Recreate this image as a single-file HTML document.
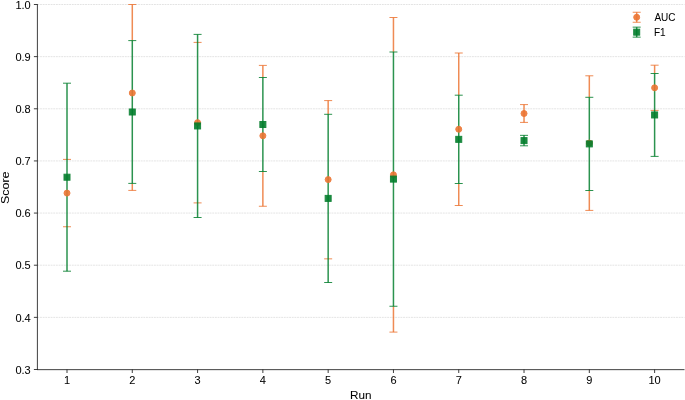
<!DOCTYPE html>
<html><head><meta charset="utf-8"><title>Score by Run</title><style>
html,body{margin:0;padding:0;background:#fff;width:685px;height:400px;overflow:hidden}
svg{display:block;will-change:transform}
text{font-family:"Liberation Sans",sans-serif;fill:#000;stroke:#000;stroke-width:0.05px}
.t{font-size:10.1px}.l{font-size:10.2px}.a{font-size:11.5px}
</style></head><body>
<svg width="685" height="400" viewBox="0 0 685 400">
<g stroke="#b0b0b0" stroke-width="0.5" stroke-dasharray="1.85 0.8" opacity="0.7">
<line x1="37.4" y1="4.50" x2="684.5" y2="4.50"/>
<line x1="37.4" y1="56.64" x2="684.5" y2="56.64"/>
<line x1="37.4" y1="108.79" x2="684.5" y2="108.79"/>
<line x1="37.4" y1="160.93" x2="684.5" y2="160.93"/>
<line x1="37.4" y1="213.07" x2="684.5" y2="213.07"/>
<line x1="37.4" y1="265.21" x2="684.5" y2="265.21"/>
<line x1="37.4" y1="317.36" x2="684.5" y2="317.36"/>
</g>
<g stroke="#EC7431" stroke-opacity="0.83" fill="none">
<path stroke-width="1.0" d="M63.00 159.40H71.00"/>
<path stroke-width="1.0" d="M63.00 226.75H71.00"/>
<path stroke-width="1.5" d="M132.29 4.50V40.60"/>
<path stroke-width="1.5" d="M132.29 183.40V190.40"/>
<path stroke-width="1.0" d="M128.29 4.50H136.29"/>
<path stroke-width="1.0" d="M128.29 190.40H136.29"/>
<path stroke-width="1.0" d="M193.58 42.40H201.58"/>
<path stroke-width="1.0" d="M193.58 202.90H201.58"/>
<path stroke-width="1.5" d="M262.87 65.40V77.50"/>
<path stroke-width="1.5" d="M262.87 171.50V206.25"/>
<path stroke-width="1.0" d="M258.87 65.40H266.87"/>
<path stroke-width="1.0" d="M258.87 206.25H266.87"/>
<path stroke-width="1.5" d="M328.16 100.60V114.30"/>
<path stroke-width="1.0" d="M324.16 100.60H332.16"/>
<path stroke-width="1.0" d="M324.16 258.85H332.16"/>
<path stroke-width="1.5" d="M393.45 17.50V52.00"/>
<path stroke-width="1.5" d="M393.45 306.25V332.10"/>
<path stroke-width="1.0" d="M389.45 17.50H397.45"/>
<path stroke-width="1.0" d="M389.45 332.10H397.45"/>
<path stroke-width="1.5" d="M458.74 53.00V95.20"/>
<path stroke-width="1.5" d="M458.74 183.50V205.50"/>
<path stroke-width="1.0" d="M454.74 53.00H462.74"/>
<path stroke-width="1.0" d="M454.74 205.50H462.74"/>
<path stroke-width="1.5" d="M524.03 104.60V122.40"/>
<path stroke-width="1.0" d="M520.03 104.60H528.03"/>
<path stroke-width="1.0" d="M520.03 122.40H528.03"/>
<path stroke-width="1.5" d="M589.32 75.80V97.30"/>
<path stroke-width="1.5" d="M589.32 190.50V210.40"/>
<path stroke-width="1.0" d="M585.32 75.80H593.32"/>
<path stroke-width="1.0" d="M585.32 210.40H593.32"/>
<path stroke-width="1.5" d="M654.61 65.20V73.50"/>
<path stroke-width="1.0" d="M650.61 65.20H658.61"/>
<path stroke-width="1.0" d="M650.61 110.40H658.61"/>
</g>
<g stroke="#007D2B" stroke-opacity="0.83" fill="none">
<path stroke-width="1.5" d="M67.00 83.20V271.20"/>
<path stroke-width="1.0" d="M63.00 83.20H71.00"/>
<path stroke-width="1.0" d="M63.00 271.20H71.00"/>
<path stroke-width="1.5" d="M132.29 40.60V183.40"/>
<path stroke-width="1.0" d="M128.29 40.60H136.29"/>
<path stroke-width="1.0" d="M128.29 183.40H136.29"/>
<path stroke-width="1.5" d="M197.58 34.40V217.50"/>
<path stroke-width="1.0" d="M193.58 34.40H201.58"/>
<path stroke-width="1.0" d="M193.58 217.50H201.58"/>
<path stroke-width="1.5" d="M262.87 77.50V171.50"/>
<path stroke-width="1.0" d="M258.87 77.50H266.87"/>
<path stroke-width="1.0" d="M258.87 171.50H266.87"/>
<path stroke-width="1.5" d="M328.16 114.30V282.50"/>
<path stroke-width="1.0" d="M324.16 114.30H332.16"/>
<path stroke-width="1.0" d="M324.16 282.50H332.16"/>
<path stroke-width="1.5" d="M393.45 52.00V306.25"/>
<path stroke-width="1.0" d="M389.45 52.00H397.45"/>
<path stroke-width="1.0" d="M389.45 306.25H397.45"/>
<path stroke-width="1.5" d="M458.74 95.20V183.50"/>
<path stroke-width="1.0" d="M454.74 95.20H462.74"/>
<path stroke-width="1.0" d="M454.74 183.50H462.74"/>
<path stroke-width="1.5" d="M524.03 135.35V145.80"/>
<path stroke-width="1.0" d="M520.03 135.35H528.03"/>
<path stroke-width="1.0" d="M520.03 145.80H528.03"/>
<path stroke-width="1.5" d="M589.32 97.30V190.50"/>
<path stroke-width="1.0" d="M585.32 97.30H593.32"/>
<path stroke-width="1.0" d="M585.32 190.50H593.32"/>
<path stroke-width="1.5" d="M654.61 73.50V156.40"/>
<path stroke-width="1.0" d="M650.61 73.50H658.61"/>
<path stroke-width="1.0" d="M650.61 156.40H658.61"/>
</g>
<circle cx="67.00" cy="193.10" r="3.0" fill="#EC7431" stroke="#EC7431" stroke-width="1.0" opacity="0.9"/>
<circle cx="132.29" cy="93.00" r="3.0" fill="#EC7431" stroke="#EC7431" stroke-width="1.0" opacity="0.9"/>
<circle cx="197.58" cy="122.65" r="3.0" fill="#EC7431" stroke="#EC7431" stroke-width="1.0" opacity="0.9"/>
<circle cx="262.87" cy="135.80" r="3.0" fill="#EC7431" stroke="#EC7431" stroke-width="1.0" opacity="0.9"/>
<circle cx="328.16" cy="179.60" r="3.0" fill="#EC7431" stroke="#EC7431" stroke-width="1.0" opacity="0.9"/>
<circle cx="393.45" cy="174.80" r="3.0" fill="#EC7431" stroke="#EC7431" stroke-width="1.0" opacity="0.9"/>
<circle cx="458.74" cy="129.25" r="3.0" fill="#EC7431" stroke="#EC7431" stroke-width="1.0" opacity="0.9"/>
<circle cx="524.03" cy="113.50" r="3.0" fill="#EC7431" stroke="#EC7431" stroke-width="1.0" opacity="0.9"/>
<circle cx="589.32" cy="143.10" r="3.0" fill="#EC7431" stroke="#EC7431" stroke-width="1.0" opacity="0.9"/>
<circle cx="654.61" cy="87.80" r="3.0" fill="#EC7431" stroke="#EC7431" stroke-width="1.0" opacity="0.9"/>
<rect x="64.00" y="174.20" width="6.0" height="6.0" fill="#007D2B" stroke="#007D2B" stroke-width="1.0" opacity="0.9"/>
<rect x="129.29" y="109.00" width="6.0" height="6.0" fill="#007D2B" stroke="#007D2B" stroke-width="1.0" opacity="0.9"/>
<rect x="194.58" y="122.95" width="6.0" height="6.0" fill="#007D2B" stroke="#007D2B" stroke-width="1.0" opacity="0.9"/>
<rect x="259.87" y="121.50" width="6.0" height="6.0" fill="#007D2B" stroke="#007D2B" stroke-width="1.0" opacity="0.9"/>
<rect x="325.16" y="195.40" width="6.0" height="6.0" fill="#007D2B" stroke="#007D2B" stroke-width="1.0" opacity="0.9"/>
<rect x="390.45" y="176.10" width="6.0" height="6.0" fill="#007D2B" stroke="#007D2B" stroke-width="1.0" opacity="0.9"/>
<rect x="455.74" y="136.35" width="6.0" height="6.0" fill="#007D2B" stroke="#007D2B" stroke-width="1.0" opacity="0.9"/>
<rect x="521.03" y="137.60" width="6.0" height="6.0" fill="#007D2B" stroke="#007D2B" stroke-width="1.0" opacity="0.9"/>
<rect x="586.32" y="140.90" width="6.0" height="6.0" fill="#007D2B" stroke="#007D2B" stroke-width="1.0" opacity="0.9"/>
<rect x="651.61" y="111.95" width="6.0" height="6.0" fill="#007D2B" stroke="#007D2B" stroke-width="1.0" opacity="0.9"/>
<g stroke="#1e1e1e" stroke-width="0.85">
<line x1="37.4" y1="4.1" x2="37.4" y2="369.9"/>
<line x1="37.0" y1="369.65" x2="684.5" y2="369.65"/>
<line x1="33.9" y1="4.50" x2="37.4" y2="4.50"/>
<line x1="33.9" y1="56.64" x2="37.4" y2="56.64"/>
<line x1="33.9" y1="108.79" x2="37.4" y2="108.79"/>
<line x1="33.9" y1="160.93" x2="37.4" y2="160.93"/>
<line x1="33.9" y1="213.07" x2="37.4" y2="213.07"/>
<line x1="33.9" y1="265.21" x2="37.4" y2="265.21"/>
<line x1="33.9" y1="317.36" x2="37.4" y2="317.36"/>
<line x1="33.9" y1="369.50" x2="37.4" y2="369.50"/>
<line x1="67.00" y1="369.5" x2="67.00" y2="373.0"/>
<line x1="132.29" y1="369.5" x2="132.29" y2="373.0"/>
<line x1="197.58" y1="369.5" x2="197.58" y2="373.0"/>
<line x1="262.87" y1="369.5" x2="262.87" y2="373.0"/>
<line x1="328.16" y1="369.5" x2="328.16" y2="373.0"/>
<line x1="393.45" y1="369.5" x2="393.45" y2="373.0"/>
<line x1="458.74" y1="369.5" x2="458.74" y2="373.0"/>
<line x1="524.03" y1="369.5" x2="524.03" y2="373.0"/>
<line x1="589.32" y1="369.5" x2="589.32" y2="373.0"/>
<line x1="654.61" y1="369.5" x2="654.61" y2="373.0"/>
</g>
<text class="t" transform="translate(30.7 8.70) scale(1.09 1)" text-anchor="end">1.0</text>
<text class="t" transform="translate(30.7 60.84) scale(1.09 1)" text-anchor="end">0.9</text>
<text class="t" transform="translate(30.7 112.99) scale(1.09 1)" text-anchor="end">0.8</text>
<text class="t" transform="translate(30.7 165.13) scale(1.09 1)" text-anchor="end">0.7</text>
<text class="t" transform="translate(30.7 217.27) scale(1.09 1)" text-anchor="end">0.6</text>
<text class="t" transform="translate(30.7 269.41) scale(1.09 1)" text-anchor="end">0.5</text>
<text class="t" transform="translate(30.7 321.56) scale(1.09 1)" text-anchor="end">0.4</text>
<text class="t" transform="translate(30.7 373.70) scale(1.09 1)" text-anchor="end">0.3</text>
<text class="t" transform="translate(67.00 384.1) scale(1.09 1)" text-anchor="middle">1</text>
<text class="t" transform="translate(132.29 384.1) scale(1.09 1)" text-anchor="middle">2</text>
<text class="t" transform="translate(197.58 384.1) scale(1.09 1)" text-anchor="middle">3</text>
<text class="t" transform="translate(262.87 384.1) scale(1.09 1)" text-anchor="middle">4</text>
<text class="t" transform="translate(328.16 384.1) scale(1.09 1)" text-anchor="middle">5</text>
<text class="t" transform="translate(393.45 384.1) scale(1.09 1)" text-anchor="middle">6</text>
<text class="t" transform="translate(458.74 384.1) scale(1.09 1)" text-anchor="middle">7</text>
<text class="t" transform="translate(524.03 384.1) scale(1.09 1)" text-anchor="middle">8</text>
<text class="t" transform="translate(589.32 384.1) scale(1.09 1)" text-anchor="middle">9</text>
<text class="t" transform="translate(654.61 384.1) scale(1.09 1)" text-anchor="middle">10</text>
<text class="a" transform="translate(360.7 398.6) scale(1.02 1)" text-anchor="middle">Run</text>
<text class="a" transform="translate(9.1 187.8) rotate(-90) scale(1.085 1)" text-anchor="middle">Score</text>
<g stroke="#EC7431" stroke-opacity="0.83" fill="none">
<path stroke-width="1.5" d="M636.7 12.25V22.25"/><path stroke-width="1.0" d="M632.7 12.25H640.7"/><path stroke-width="1.0" d="M632.7 22.25H640.7"/>
</g>
<circle cx="636.7" cy="17.25" r="3.0" fill="#EC7431" stroke="#EC7431" stroke-width="1.0" opacity="0.9"/>
<g stroke="#007D2B" stroke-opacity="0.83" fill="none">
<path stroke-width="1.5" d="M636.7 27.15V37.15"/><path stroke-width="1.0" d="M632.7 27.15H640.7"/><path stroke-width="1.0" d="M632.7 37.15H640.7"/>
</g>
<rect x="633.7" y="29.15" width="6.0" height="6.0" fill="#007D2B" stroke="#007D2B" stroke-width="1.0" opacity="0.9"/>
<text class="l" transform="translate(654.4 20.85) scale(0.98 1)">AUC</text>
<text class="l" transform="translate(654.0 35.95) scale(0.98 1)">F1</text>
</svg>
</body></html>
